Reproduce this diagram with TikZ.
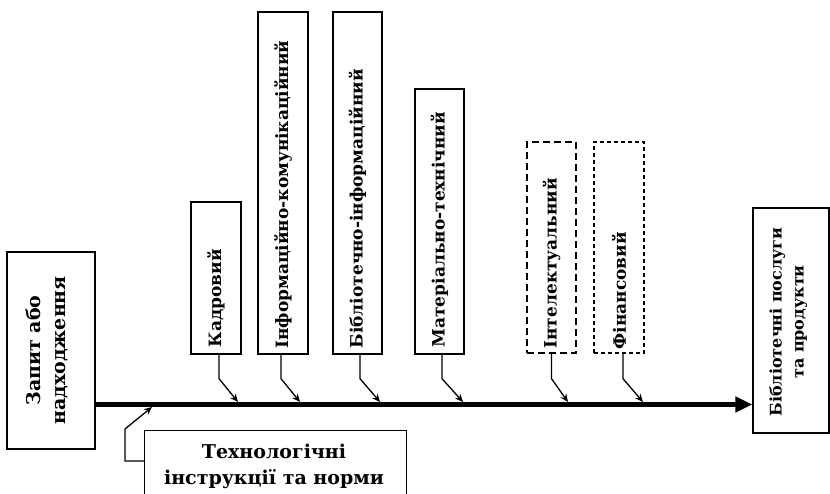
\documentclass[tikz,border=0pt]{standalone}
\usepackage{fontspec}
\setmainfont{DejaVu Serif}
\usetikzlibrary{arrows.meta,calc}
\begin{document}
\begin{tikzpicture}[x=1pt,y=-1pt,
  box/.style={draw,line width=1.3pt,inner sep=0pt,rectangle},
  dbox/.style={box,dash pattern=on 7pt off 4pt},
  fbox/.style={box,dash pattern=on 4pt off 3pt},
  vtxt/.style={rotate=90,anchor=west,inner sep=0pt,font=\bfseries\fontsize{17}{19}\selectfont},
  ttxt/.style={inner sep=0pt,font=\bfseries\fontsize{19}{26}\selectfont,align=center},
  conn/.style={line width=1.3pt,-{Stealth[length=8pt,width=7pt]}},
  mainline/.style={line width=5pt,-{Triangle[length=17pt,width=15pt]}}
]
\useasboundingbox (0,0) rectangle (830,494);
\fill[white] (0,0) rectangle (830,494);

% input / output boxes
\node[box,minimum width=88pt,minimum height=197pt] (zap) at (51,350.5) {};
\node[inner sep=0pt,rotate=90,font=\bfseries\fontsize{19}{21}\selectfont] (zaptxt) at (49,350.5)
  {\begin{tabular}{@{}c@{}}Запит або\\[4pt]надходження\end{tabular}};
\node[box,minimum width=76pt,minimum height=225pt] (out) at (791,320.5) {};
\node[inner sep=0pt,rotate=90,font=\bfseries\fontsize{16}{18}\selectfont] (outtxt) at (789,322)
  {\begin{tabular}{@{}c@{}}Бібліотечні послуги\\[4pt]та продукти\end{tabular}};

% resource boxes
\node[box,minimum width=50pt,minimum height=152pt] (kadr) at (216,278) {};
\node[vtxt] (kadrt) at ([yshift=7pt]kadr.south) {Кадровий};
\node[box,minimum width=50pt,minimum height=342pt] (ikom) at (283,183) {};
\node[vtxt] (ikomt) at ([yshift=6pt]ikom.south) {Інформаційно-комунікаційний};
\node[box,minimum width=49pt,minimum height=342pt] (binf) at (357.5,183) {};
\node[vtxt] (binft) at ([yshift=6pt]binf.south) {Бібліотечно-інформаційний};
\node[box,minimum width=49pt,minimum height=265pt] (mat) at (439.5,221.5) {};
\node[vtxt] (matt) at ([yshift=7pt]mat.south) {Матеріально-технічний};
\node[dbox,minimum width=49pt,minimum height=211pt] (int) at (551.5,247.5) {};
\node[vtxt] (intt) at ([yshift=5pt]int.south) {Інтелектуальний};
\node[fbox,minimum width=50pt,minimum height=211pt] (fin) at (619,247.5) {};
\node[vtxt] (fint) at ([yshift=4pt]fin.south) {Фінансовий};

% technology box (cut off at the bottom)
\begin{scope}
\clip (0,0) rectangle (830,494);
\node[box,minimum width=262pt,minimum height=90pt,anchor=north west] (tech) at (144,430) {};
\end{scope}
\node[ttxt] (techt) at (274,466) {Технологічні\\інструкції та норми};

% main line
\coordinate (m) at (0,404.5);
\draw[mainline] (zap.east |- m) -- (out.west |- m);

% tips on the main line
\coordinate (t1) at (238,402);
\coordinate (t2) at (300,402);
\coordinate (t3) at (380,402);
\coordinate (t4) at (463,402);
\coordinate (t5) at (568,402);
\coordinate (t6) at (643,402);
\coordinate (t0) at (152,407);

\draw[conn] ([xshift=3pt]kadr.south) -- ++(0,24) -- (t1);
\draw[conn] ([xshift=-2pt]ikom.south) -- ++(0,24) -- (t2);
\draw[conn] ([xshift=2.5pt]binf.south) -- ++(0,24) -- (t3);
\draw[conn] ([xshift=2.5pt]mat.south) -- ++(0,24) -- (t4);
\draw[conn] (int.south) -- ++(0,25) -- (t5);
\draw[conn] ([xshift=4pt]fin.south) -- ++(0,25) -- (t6);
\draw[conn] ([yshift=-31pt]tech.north west) -- ++(-19,0) -- ++(0,-32) -- (t0);
\end{tikzpicture}
\end{document}
